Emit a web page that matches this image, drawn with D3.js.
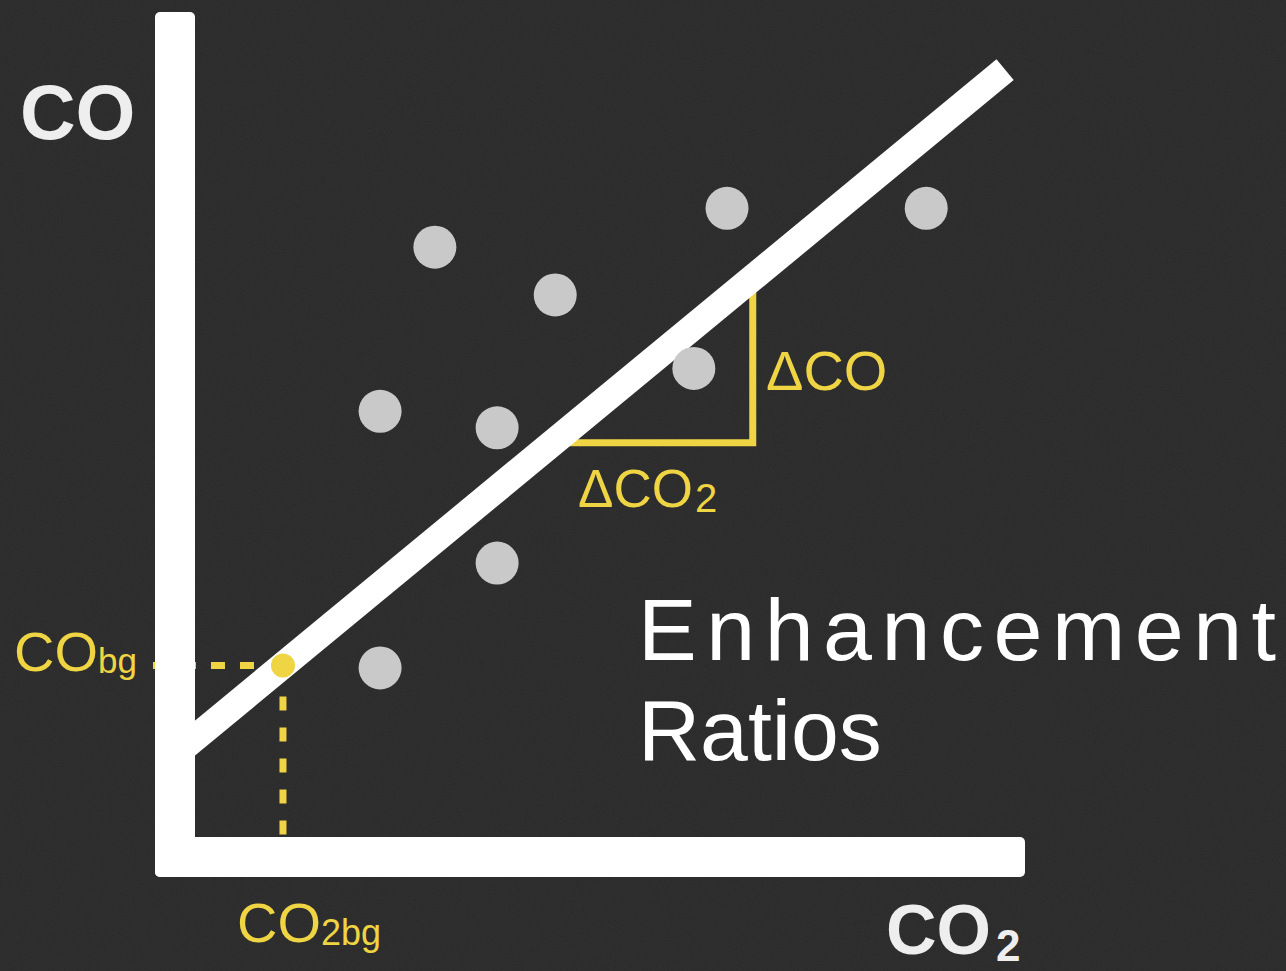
<!DOCTYPE html>
<html>
<head>
<meta charset="utf-8">
<script src="https://cdn.jsdelivr.net/npm/d3@7"></script>
<style>
  html, body { margin: 0; padding: 0; background: #2a2a2a; overflow: hidden; }
  svg { display: block; }
</style>
</head>
<body>
<script>
// ---- data (arbitrary units: CO2 on x, CO on y, 0..100) ----
const pointCO2 = [28.9, 43.4, 64.1, 88.1, 22.3, 36.4, 60.1, 36.4, 22.3];
const pointCO  = [71.5, 65.7, 76.2, 76.2, 51.6, 49.6, 56.8, 33.2, 20.5];
const fitIntercept = 12.0;
const fitSlope = 0.83;
const fitCO2Range = [-3, 97.6];
const backgroundCO2 = [10.6];
const backgroundCO = [20.8];
const deltaCO2Range = [43.1, 67.2];
const deltaCORange = [47.8, 67.8];
const axisLabels = ["CO", "CO", "2"];
const annotationLabels = ["CO", "bg", "2bg", "\u0394CO", "\u0394CO", "2"];
const titleLines = ["Enhancement", "Ratios"];

const W = 1286, H = 971;
const YELLOW = "#efd443";
const svg = d3.select("body").append("svg").attr("width", W).attr("height", H);

const x = d3.scaleLinear().domain([0, 100]).range([195, 1025]);
const y = d3.scaleLinear().domain([0, 100]).range([837, 12]);

// background with subtle texture
const defs = svg.append("defs");
const f = defs.append("filter").attr("id", "noise").attr("x", 0).attr("y", 0).attr("width", "100%").attr("height", "100%");
f.append("feTurbulence").attr("type", "fractalNoise").attr("baseFrequency", 0.85).attr("numOctaves", 2).attr("seed", 3).attr("result", "t");
f.append("feColorMatrix").attr("type", "matrix")
  .attr("values", "0 0 0 0 0.3  0 0 0 0 0.3  0 0 0 0 0.3  0 0 0 0.1 0");
const soft = defs.append("filter").attr("id", "soft");
soft.append("feGaussianBlur").attr("stdDeviation", 0.6);

svg.append("rect").attr("width", W).attr("height", H).attr("fill", "#282828");
svg.append("rect").attr("width", W).attr("height", H).attr("filter", "url(#noise)");

const bg = { co2: backgroundCO2[0], co: backgroundCO[0] };

// dashed background guides
const line = d3.line().x(d => x(d[0])).y(d => y(d[1]));
svg.append("path")
  .attr("d", line([[bg.co2, bg.co], [x.invert(150), bg.co]]))
  .attr("fill", "none").attr("stroke", YELLOW).attr("stroke-width", 7).attr("stroke-dasharray", "14,15");
svg.append("path")
  .attr("d", line([[bg.co2, bg.co], [bg.co2, 0]]))
  .attr("fill", "none").attr("stroke", YELLOW).attr("stroke-width", 7).attr("stroke-dasharray", "14,17");

// slope triangle
svg.append("path")
  .attr("d", line([[deltaCO2Range[0], deltaCORange[0]], [deltaCO2Range[1], deltaCORange[0]], [deltaCO2Range[1], deltaCORange[1]]]))
  .attr("fill", "none").attr("stroke", YELLOW).attr("stroke-width", 7).attr("stroke-linejoin", "miter");

// fit line
svg.append("path")
  .attr("d", line(fitCO2Range.map(v => [v, fitIntercept + fitSlope * v])))
  .attr("fill", "none").attr("stroke", "#ffffff").attr("stroke-width", 27).attr("stroke-linecap", "butt");

// axes (thick white bars)
const T = 40;
svg.append("rect")
  .attr("x", x(0) - T).attr("y", y(100)).attr("width", T).attr("height", y(0) - y(100) + T)
  .attr("rx", 5).attr("fill", "#ffffff");
svg.append("rect")
  .attr("x", x(0) - T).attr("y", y(0)).attr("width", x(100) - x(0) + T).attr("height", T)
  .attr("rx", 5).attr("fill", "#ffffff");

// data points
svg.append("g").selectAll("circle")
  .data(pointCO2.map((v, i) => ({ co2: v, co: pointCO[i] })))
  .join("circle")
  .attr("cx", d => x(d.co2)).attr("cy", d => y(d.co))
  .attr("r", 21.5).attr("fill", "#c9c9c9").attr("filter", "url(#soft)");

// background point
svg.append("circle").attr("cx", x(bg.co2)).attr("cy", y(bg.co)).attr("r", 12).attr("fill", YELLOW);

// ---- texts ----
const font = "'Liberation Sans', Arial, Helvetica, sans-serif";
// axis labels
svg.append("text").attr("x", 20).attr("y", 139)
  .attr("font-family", font).attr("font-weight", "bold").attr("font-size", 77).attr("fill", "#eeeeee")
  .text(axisLabels[0]);
const co2t = svg.append("text").attr("x", 886).attr("y", 954)
  .attr("font-family", font).attr("font-weight", "bold").attr("font-size", 70).attr("fill", "#eeeeee");
co2t.append("tspan").text(axisLabels[1]);
co2t.append("tspan").attr("font-size", 44).attr("dx", 5).attr("dy", 7).text(axisLabels[2]);

// background labels
const cobg = svg.append("text").attr("x", 14).attr("y", 671)
  .attr("font-family", font).attr("font-size", 56).attr("fill", YELLOW);
cobg.append("tspan").text(annotationLabels[0]);
cobg.append("tspan").attr("font-size", 35).attr("dy", 2).text(annotationLabels[1]);

const co2bg = svg.append("text").attr("x", 237).attr("y", 942)
  .attr("font-family", font).attr("font-size", 56).attr("fill", YELLOW);
co2bg.append("tspan").text(annotationLabels[0]);
co2bg.append("tspan").attr("font-size", 36).attr("dy", 3).text(annotationLabels[2]);

// delta labels
svg.append("text").attr("x", 766).attr("y", 390)
  .attr("font-family", font).attr("font-size", 56).attr("fill", YELLOW)
  .text(annotationLabels[3]);
const dco2 = svg.append("text").attr("x", 578).attr("y", 507)
  .attr("font-family", font).attr("font-size", 53).attr("fill", YELLOW);
dco2.append("tspan").text(annotationLabels[4]);
dco2.append("tspan").attr("font-size", 40).attr("dx", 2).attr("dy", 5).text(annotationLabels[5]);

// title
svg.append("text").attr("x", 638).attr("y", 660)
  .attr("font-family", font).attr("font-size", 88).attr("letter-spacing", 9.5).attr("fill", "#ffffff")
  .text(titleLines[0]);
svg.append("text").attr("x", 638).attr("y", 760)
  .attr("font-family", font).attr("font-size", 86).attr("fill", "#ffffff")
  .text(titleLines[1]);
</script>
</body>
</html>
